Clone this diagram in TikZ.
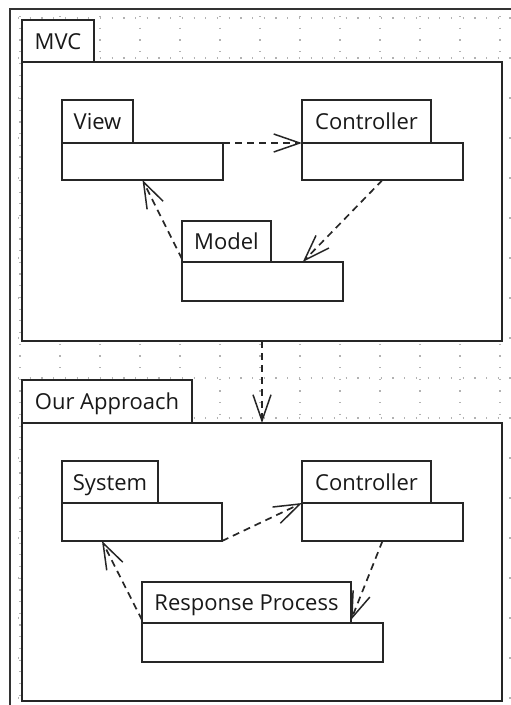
\documentclass[tikz,border=0pt]{standalone}
\usepackage{fontspec}
\setmainfont{Open Sans}
\usetikzlibrary{arrows.meta,calc}

\tikzset{
  pkgbox/.style={draw=black!85, fill=white, line width=1.7pt, inner sep=0pt,
    outer sep=0pt, anchor=north west, font=\fontsize{22}{26}\selectfont,
    text=black!90, text height=16pt, text depth=0pt},
  dep/.style={draw=black!85, line width=1.7pt, dash pattern=on 7pt off 5pt,
    -{Straight Barb[length=26pt,width=18pt,line width=1.5pt]}},
  gridmark/.style={draw=black!30, line width=2.6pt, dash pattern=on 1.2pt off 10.5pt},
}

\begin{document}
\begin{tikzpicture}[x=1pt,y=-1pt]
\useasboundingbox (0,0) rectangle (511,705);
\fill[white] (0,0) rectangle (511,705);

% editor background grid
\foreach \gx in {20,60,...,500} \draw[gridmark] (\gx,16) -- (\gx,705);
\foreach \gy in {18,58,...,698} \draw[gridmark] (18,\gy) -- (511,\gy);

% view frame
\draw[line width=2pt, black!80] (10,705) -- (10,9) -- (511,9);

% package MVC
\node[pkgbox, minimum width=480pt, minimum height=279pt] (mvcB) at (22,62) {};
\node[pkgbox, minimum width=72pt, minimum height=42pt] (mvcT) at (22,20) {MVC};

\node[pkgbox, minimum width=161pt, minimum height=37pt] (viewB) at (62,143) {};
\node[pkgbox, minimum width=71pt, minimum height=43pt] (viewT) at (62,100) {View};

\node[pkgbox, minimum width=161pt, minimum height=37pt] (ctrlB) at (302,143) {};
\node[pkgbox, minimum width=129pt, minimum height=43pt] (ctrlT) at (302,100) {Controller};

\node[pkgbox, minimum width=161pt, minimum height=39pt] (modelB) at (182,262) {};
\node[pkgbox, minimum width=89pt, minimum height=41pt] (modelT) at (182,221) {Model};

% package Our Approach
\node[pkgbox, minimum width=480pt, minimum height=278pt] (ourB) at (22,423) {};
\node[pkgbox, minimum width=170pt, minimum height=43pt] (ourT) at (22,380) {Our Approach};

\node[pkgbox, minimum width=160pt, minimum height=38pt] (sysB) at (62,503) {};
\node[pkgbox, minimum width=96pt, minimum height=42pt] (sysT) at (62,461) {System};

\node[pkgbox, minimum width=161pt, minimum height=38pt] (ctrlTwoB) at (302,503) {};
\node[pkgbox, minimum width=129pt, minimum height=42pt] (ctrlTwoT) at (302,461) {Controller};

\node[pkgbox, minimum width=241pt, minimum height=39pt] (respB) at (142,623) {};
\node[pkgbox, minimum width=209pt, minimum height=41pt] (respT) at (142,582) {Response Process};

% dependencies
\draw[dep] (viewB.north east) -- (ctrlB.north west);
\draw[dep] (ctrlB.south) -- ($(modelB.north west)!0.75!(modelB.north east)$);
\draw[dep] ([yshift=3pt]modelT.south west) -- (viewB.south);
\draw[dep] (mvcB.south) -- (ourB.north);

\draw[dep] (sysB.south east) -- (ctrlTwoB.north west);
\draw[dep] (ctrlTwoB.south) -- ([yshift=3pt]respT.south east);
\draw[dep] ([yshift=3pt]respT.south west) -- ($(sysB.south west)!0.25!(sysB.south east)$);
\end{tikzpicture}
\end{document}
